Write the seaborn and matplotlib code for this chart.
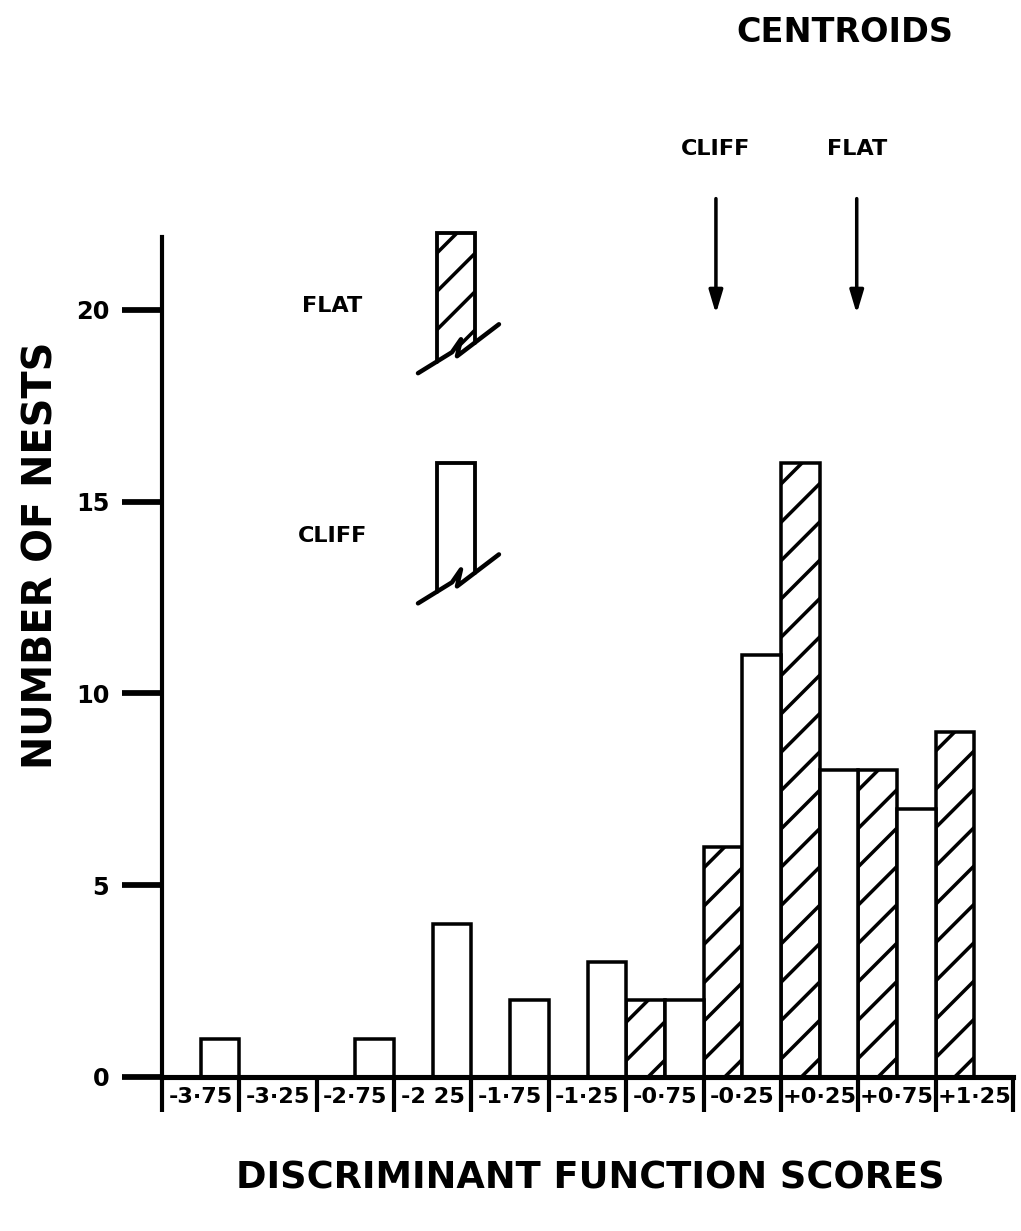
import numpy as np
import pandas as pd
import matplotlib
matplotlib.use("Agg")
import matplotlib.pyplot as plt
from matplotlib.patches import Polygon
import seaborn as sns

# Discriminant score classes (class midpoints) and nest counts per site type
score_labels = ["-3·75", "-3·25", "-2·75", "-2 25", "-1·75", "-1·25",
                "-0·75", "-0·25", "+0·25", "+0·75", "+1·25"]
score_mid = [-3.75, -3.25, -2.75, -2.25, -1.75, -1.25, -0.75, -0.25, 0.25, 0.75, 1.25]
flat_counts = [0, 0, 0, 0, 0, 0, 2, 6, 16, 8, 9]
cliff_counts = [1, 0, 1, 4, 2, 3, 2, 11, 8, 7, 0]

# Group centroids on the discriminant score axis
centroid_names = ["CLIFF", "FLAT"]
centroid_scores = [-0.42, 0.49]

# Key glyph heights (broken bars)
key_names = ["FLAT", "CLIFF"]
key_tops = [22, 16]

DPI = 230
sns.set_style("ticks")
plt.rcParams["font.family"] = ["DejaVu Sans"]
plt.rcParams["font.weight"] = "bold"
plt.rcParams["hatch.linewidth"] = 1.1
plt.rcParams["text.color"] = "black"
plt.rcParams["axes.edgecolor"] = "black"
plt.rcParams["xtick.color"] = "black"
plt.rcParams["ytick.color"] = "black"
plt.rcParams["xtick.labelcolor"] = "black"
plt.rcParams["ytick.labelcolor"] = "black"

df = pd.DataFrame({
    "score": score_labels * 2,
    "count": flat_counts + cliff_counts,
    "site": ["FLAT"] * len(score_labels) + ["CLIFF"] * len(score_labels),
})

fig = plt.figure(figsize=(1021 / DPI, 1231 / DPI), dpi=DPI)
ax = fig.add_axes([162 / 1021, 1 - 1077 / 1231, (1013 - 162) / 1021, (1077 - 237) / 1231])

sns.barplot(data=df, x="score", y="count", hue="site", hue_order=["FLAT", "CLIFF"],
            order=score_labels, palette={"FLAT": "white", "CLIFF": "white"},
            edgecolor="black", linewidth=1.1, width=1.0, gap=0, saturation=1,
            errorbar=None, legend=False, ax=ax)

for bar in ax.containers[0]:
    bar.set_hatch("//")

ax.set_xlim(-0.5, len(score_labels) - 0.5)
ax.set_ylim(0, 21.9)
ax.set_xlabel("")
ax.set_ylabel("")

for side in ["top", "right"]:
    ax.spines[side].set_visible(False)
ax.spines["left"].set_linewidth(1.3)
ax.spines["bottom"].set_linewidth(1.6)

ax.set_yticks([0, 5, 10, 15, 20])
ax.tick_params(axis="y", direction="out", length=12.5, width=1.8, pad=4, labelsize=7.5)
for t in ax.get_yticklabels():
    t.set_fontweight("bold")

# class labels centred in their cells, class limits as separator ticks
ax.set_xticks(np.arange(len(score_labels)))
ax.set_xticklabels(score_labels, fontsize=7.0, fontweight="bold")
ax.set_xticks(np.arange(-0.5, len(score_labels)), minor=True)
ax.tick_params(axis="x", which="major", length=0, pad=3)
ax.tick_params(axis="x", which="minor", direction="out", length=11, width=1.3)

# Key: broken bars for each site type
px_x = 77.4  # pixels per category unit
px_y = 38.4  # pixels per count unit
brk = np.array([(-38, -25), (-4, -4), (5, 9), (1, -8), (43, 24)], dtype=float)
brk[:, 0] /= px_x
brk[:, 1] /= px_y
half = 19 / px_x
key_x = 3.3
for name, top in zip(key_names, key_tops):
    yc = top - 3.0
    left_y = yc + (-13.3 / px_y)
    right_y = yc + (5.7 / px_y)
    poly = [(key_x - half, top), (key_x + half, top), (key_x + half, right_y)]
    poly += [(key_x + dx, yc + dy) for dx, dy in brk[[3, 2, 1]]]
    poly += [(key_x - half, left_y)]
    patch = Polygon(poly, closed=True, facecolor="white", edgecolor="black",
                    linewidth=0, hatch="//" if name == "FLAT" else None, clip_on=False)
    ax.add_patch(patch)
    ax.plot([key_x - half, key_x - half, key_x + half, key_x + half],
            [left_y, top, top, right_y], color="black", lw=1.2, clip_on=False,
            solid_joinstyle="miter")
    ax.plot(key_x + brk[:, 0], yc + brk[:, 1], color="black", lw=1.4, clip_on=False)
    ax.text(1.7, top - 1.9, name, ha="center", va="center", fontsize=7,
            fontweight="bold")

# Centroid arrows
for name, sc in zip(centroid_names, centroid_scores):
    xc = (sc - score_mid[0]) / 0.5
    ax.annotate("", xy=(xc, 19.9), xytext=(xc, 22.9), annotation_clip=False,
                arrowprops=dict(arrowstyle="-|>,head_length=0.6,head_width=0.18",
                                color="black", lw=1.1, mutation_scale=10,
                                shrinkA=0, shrinkB=0))
    ax.text(xc, 24.2, name, ha="center", va="center", fontsize=7, fontweight="bold")

fig.text(845 / 1021, 1 - 32 / 1231, "CENTROIDS", ha="center", va="center",
         fontsize=10.5, fontweight="bold")
fig.text(42 / 1021, 1 - 555 / 1231, "NUMBER OF NESTS", ha="center", va="center",
         rotation=90, fontsize=12.5, fontweight="bold")
fig.text(590 / 1021, 1 - 1178 / 1231, "DISCRIMINANT FUNCTION SCORES", ha="center",
         va="center", fontsize=11.5, fontweight="bold")

fig.savefig("out.png", dpi=DPI, facecolor="white")
